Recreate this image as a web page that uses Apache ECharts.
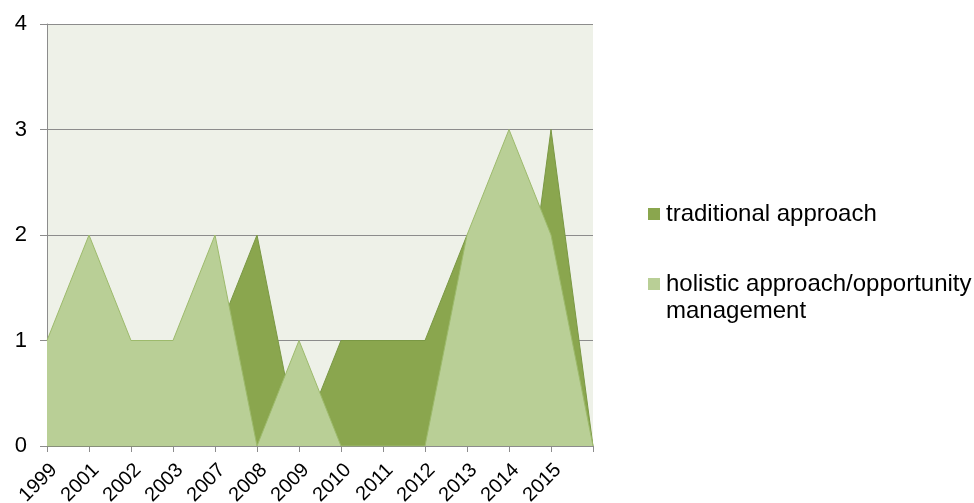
<!DOCTYPE html>
<html>
<head>
<meta charset="utf-8">
<script src="https://cdn.jsdelivr.net/npm/echarts@6/dist/echarts.min.js"></script>
<style>
  html, body { margin: 0; padding: 0; background: #fff; }
  #chart { width: 974px; height: 503px; }
</style>
</head>
<body>
<div id="chart"></div>
<script>
// 数据
const years = ['1999', '2001', '2002', '2003', '2007', '2008', '2009', '2010', '2011', '2012', '2013', '2014', '2015', '']
const traditional = [0, 0, 0, 0, 1, 2, 0, 1, 1, 1, 2, 0, 3, 0]
const holistic = [1, 2, 1, 1, 2, 0, 1, 0, 0, 0, 2, 3, 2, 0]
const yTicks = [0, 1, 2, 3, 4]

const chart = echarts.init(document.getElementById('chart'))

const font = 'Liberation Sans, Arial, sans-serif'

// 图例公共样式
const legendBase = {
  left: 648,
  padding: 0,
  icon: 'rect',
  itemWidth: 12,
  itemHeight: 12,
  textStyle: { fontFamily: font, fontSize: 24, color: '#000', padding: [0, 0, 0, 1] }
}

const option = {
  animation: false,
  grid: {
    left: 47,
    right: 381,
    top: 24,
    bottom: 57,
    show: true,
    backgroundColor: '#eef1e8',
    borderWidth: 0,
    containLabel: false,
    outerBoundsMode: 'none'
  },
  legend: [
    Object.assign({}, legendBase, {
      data: [{ name: 'traditional approach' }],
      top: 202
    }),
    Object.assign({}, legendBase, {
      data: [{ name: 'holistic approach/opportunity management' }],
      top: 272,
      formatter: () => 'holistic approach/opportunity'
    })
  ],
  graphic: [
    {
      type: 'text',
      left: 666,
      top: 299,
      style: { text: 'management', font: '24px ' + font, fill: '#000' }
    }
  ],
  xAxis: {
    type: 'category',
    data: years,
    boundaryGap: false,
    axisLine: { lineStyle: { color: '#8c8c8c', width: 1 } },
    axisTick: { show: true, alignWithLabel: true, length: 6, lineStyle: { color: '#8c8c8c' } },
    axisLabel: {
      interval: 0,
      rotate: 45,
      margin: 14,
      verticalAlign: 'top',
      fontFamily: font,
      fontSize: 20,
      color: '#000'
    }
  },
  yAxis: {
    type: 'value',
    min: yTicks[0],
    max: yTicks[yTicks.length - 1],
    interval: 1,
    axisLine: { show: true, lineStyle: { color: '#8c8c8c', width: 1 } },
    axisTick: { show: true, length: 7, lineStyle: { color: '#8c8c8c' } },
    axisLabel: { fontFamily: font, fontSize: 22, color: '#000', margin: 20 },
    splitLine: { lineStyle: { color: '#8c8c8c', width: 1 } }
  },
  series: [
    {
      name: 'traditional approach',
      type: 'line',
      z: 2,
      data: traditional,
      symbol: 'none',
      itemStyle: { color: '#8aa64e' },
      lineStyle: { color: '#7a9844', width: 1 },
      areaStyle: { color: '#8aa64e', opacity: 1 }
    },
    {
      name: 'holistic approach/opportunity management',
      type: 'line',
      z: 3,
      data: holistic,
      symbol: 'none',
      itemStyle: { color: '#b9cf96' },
      lineStyle: { color: '#9dba6c', width: 1 },
      areaStyle: { color: '#b9cf96', opacity: 1 }
    }
  ]
}

chart.setOption(option)
</script>
</body>
</html>
